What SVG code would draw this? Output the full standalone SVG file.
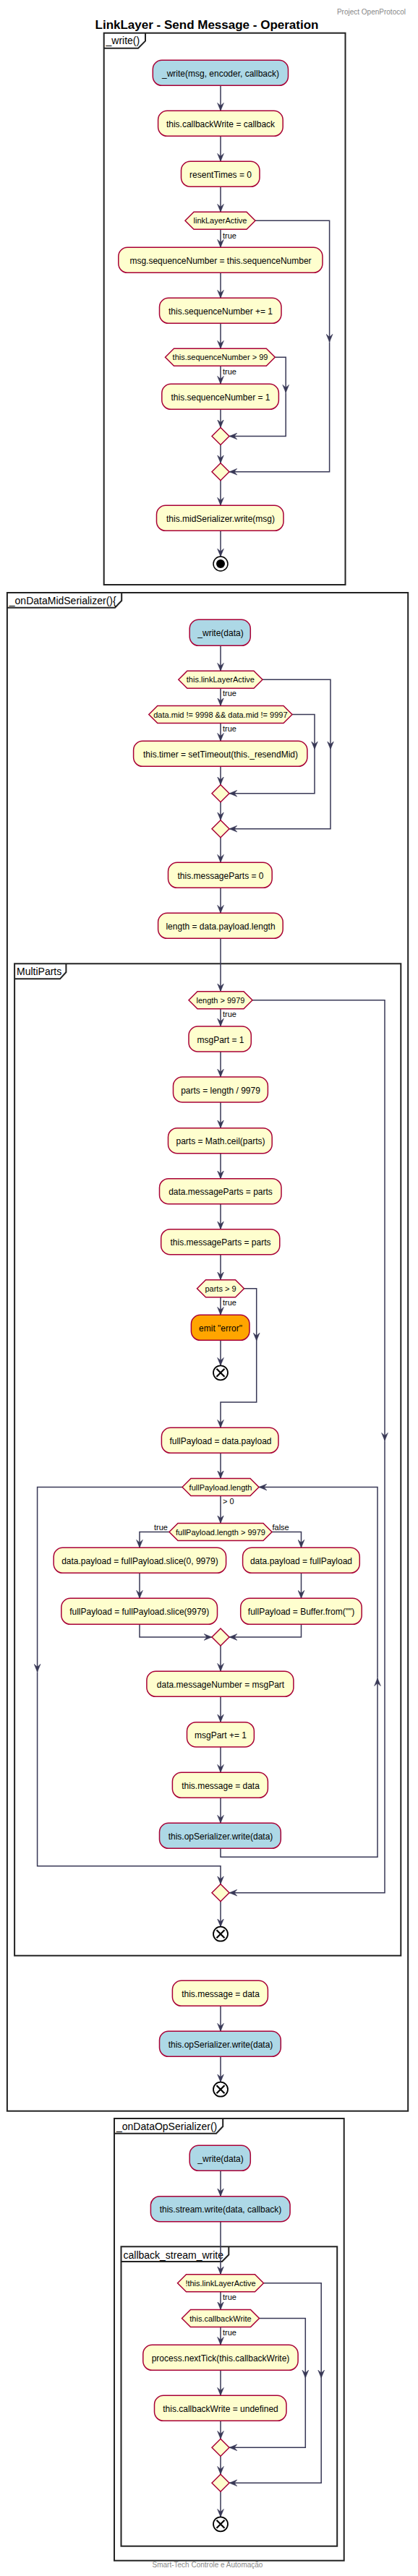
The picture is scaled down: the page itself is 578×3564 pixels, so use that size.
<svg xmlns="http://www.w3.org/2000/svg" width="578" height="3564" viewBox="0 0 578 3564">
<defs>
<style>
.n{stroke:#A80036;stroke-width:1.5}
.y{fill:#FEFECE}
.b{fill:#ADD8E6}
.o{fill:#FFA500}
.t{font-family:"Liberation Sans",Arial,sans-serif;font-size:12px;fill:#000;text-anchor:middle}
.dt{font-size:11px}
.l{font-family:"Liberation Sans",Arial,sans-serif;font-size:11px;fill:#000}
.c path{fill:none;stroke:#383856;stroke-width:1.5;marker-end:url(#ah)}
.c path.nm{marker-end:none}
.f{fill:none;stroke:#222;stroke-width:2}
.ft{font-family:"Liberation Sans",Arial,sans-serif;font-size:14px;fill:#000}
.x{fill:#fff;stroke:#000;stroke-width:1.8}
.xl{stroke:#000;stroke-width:2.2}
.g{font-family:"Liberation Sans",Arial,sans-serif;font-size:10px;fill:#888}
</style>
<marker id="ah" viewBox="0 0 11 10" refX="11" refY="5" markerWidth="11" markerHeight="10" markerUnits="userSpaceOnUse" orient="auto"><path d="M0,0.5 L11,5 L0,9.5 L4,5 Z" fill="#383856" stroke="#383856" stroke-width="0.5"/></marker>
</defs>
<rect width="578" height="3564" fill="#fff"/>
<text class="g" x="561" y="20" text-anchor="end">Project OpenProtocol</text>
<text x="286" y="40" text-anchor="middle" font-family="Liberation Sans, Arial, sans-serif" font-size="17" font-weight="bold">LinkLayer - Send Message - Operation</text>

<g id="frames">
<g id="frame-write">
<rect class="f" x="143.7" y="45.7" width="333.8" height="763.3"/>
<path class="f" d="M143.7,66.7 H191 L201,56.7 V45.7"/>
<text class="ft" x="146.5" y="61">_write()</text>
</g>
<g id="frame-onDataMidSerializer">
<rect class="f" x="9.9" y="820" width="554.3" height="2100.7"/>
<path class="f" d="M9.9,840.7 H159 L168.2,831 V820"/>
<text class="ft" x="12.8" y="836">_onDataMidSerializer(){</text>
</g>
<g id="frame-multiparts">
<rect class="f" x="20.1" y="1333.3" width="534.2" height="1372.4"/>
<path class="f" d="M20.1,1354.3 H83 L91.4,1345 V1333.3"/>
<text class="ft" x="23" y="1349">MultiParts</text>
</g>
<g id="frame-onDataOpSerializer">
<rect class="f" x="158" y="2931" width="317.7" height="611.7"/>
<path class="f" d="M158,2951.7 H299 L308.2,2942 V2931"/>
<text class="ft" x="161" y="2947">_onDataOpSerializer()</text>
</g>
<g id="frame-callback">
<rect class="f" x="167.5" y="3108.3" width="298.7" height="414.4"/>
<path class="f" d="M167.5,3129 H307 L316.3,3119.5 V3108.3"/>
<text class="ft" x="170.5" y="3124.5">callback_stream_write</text>
</g>
</g>

<g id="connectors" class="c">
<path d="M305,118.3 V153.3"/>
<path d="M305,188.3 V223.3"/>
<path d="M305,258.3 V293.3"/>
<path d="M305,317.3 V342.3"/>
<path d="M305,377.3 V412.3"/>
<path d="M305,447.3 V482.3"/>
<path d="M305,506.3 V531.3"/>
<path d="M305,566.3 V591.5"/>
<path d="M380.3,494.3 H395.2 V543.3"/>
<path d="M395.2,543.3 V603.5 H317"/>
<path d="M305,615.5 V640.7"/>
<path d="M353,305.3 H455.6 V473.3"/>
<path d="M455.6,473.3 V652.7 H317"/>
<path d="M305,664.7 V699.3"/>
<path d="M305,734.3 V770"/>

<path d="M305,893.3 V928.3"/>
<path d="M305,952.3 V976.5"/>
<path d="M305,1000.5 V1025.3"/>
<path d="M305,1060.3 V1085.7"/>
<path d="M404,988.5 H435 V1036.7"/>
<path d="M435,1036.7 V1097.7 H317"/>
<path d="M305,1109.7 V1134.7"/>
<path d="M363,940.3 H457 V1036.7"/>
<path d="M457,1036.7 V1146.7 H317"/>
<path d="M305,1158.7 V1193.3"/>
<path d="M305,1228.3 V1263.3"/>
<path d="M305,1298.3 V1371.7"/>

<path d="M305,1395.7 V1420"/>
<path d="M305,1455 V1490"/>
<path d="M305,1525 V1560.7"/>
<path d="M305,1595.7 V1630.7"/>
<path d="M305,1665.7 V1700.7"/>
<path d="M305,1735.7 V1770.7"/>
<path d="M305,1794.7 V1819.3"/>
<path d="M305,1854.3 V1889.3"/>
<path d="M337.5,1782.7 H354.7 V1855"/>
<path d="M354.7,1855 V1940 H305 V1975.3"/>
<path d="M305,2010.3 V2045.5"/>
<path d="M305,2069.5 V2107.5"/>
<path d="M234,2119.5 H193 V2141.3"/>
<path d="M376,2119.5 H416.5 V2141.3"/>
<path d="M193,2176.3 V2211.3"/>
<path d="M416.5,2176.3 V2211.3"/>
<path d="M193,2247.3 V2265 H293"/>
<path d="M416.5,2247.3 V2265 H317"/>
<path d="M305,2277 V2312.3"/>
<path d="M305,2347.3 V2382.7"/>
<path d="M305,2417 V2452.3"/>
<path d="M305,2487.3 V2522.3"/>
<path d="M305,2557.3 V2569.3 H522 V2321.7"/>
<path d="M522,2321.7 V2057.5 H358"/>
<path d="M252,2057.5 H51.6 V2313.3"/>
<path d="M51.6,2313.3 V2581.7 H305 V2606.7"/>
<path d="M349,1383.7 H532 V1993.3"/>
<path d="M532,1993.3 V2618.7 H317"/>
<path d="M305,2630.7 V2665.7"/>

<path d="M305,2775.3 V2810.3"/>
<path d="M305,2845.3 V2880.7"/>

<path d="M305,3003.3 V3038.7"/>
<path d="M305,3073.7 V3146.7"/>
<path d="M305,3170.7 V3195.5"/>
<path d="M305,3219.5 V3244.3"/>
<path d="M305,3279.3 V3314.3"/>
<path d="M305,3349.3 V3374.3"/>
<path d="M358.5,3207.5 H422.3 V3290"/>
<path d="M422.3,3290 V3386.3 H317"/>
<path d="M305,3398.3 V3423.3"/>
<path d="M364.5,3158.7 H444.2 V3290"/>
<path d="M444.2,3290 V3435.3 H317"/>
<path d="M305,3447.3 V3482.3"/>
</g>

<g id="labels">
<text class="l" x="308" y="329.5">true</text>
<text class="l" x="308" y="518">true</text>
<text class="l" x="308" y="963">true</text>
<text class="l" x="308" y="1012">true</text>
<text class="l" x="308" y="1407">true</text>
<text class="l" x="308" y="1805.5">true</text>
<text class="l" x="308" y="2081">&gt; 0</text>
<text class="l" x="232" y="2117" text-anchor="end">true</text>
<text class="l" x="376.5" y="2117">false</text>
<text class="l" x="308" y="3182">true</text>
<text class="l" x="308" y="3231">true</text>
</g>

<g id="n1"><rect class="n b" x="211.3" y="83.3" width="187.2" height="35" rx="12.5"/><text class="t" x="305" y="105.8">_write(msg, encoder, callback)</text></g>
<g id="n2"><rect class="n y" x="218.6" y="153.3" width="172.6" height="35" rx="12.5"/><text class="t" x="305" y="175.8">this.callbackWrite = callback</text></g>
<g id="n3"><rect class="n y" x="250.5" y="223.3" width="108.5" height="35" rx="12.5"/><text class="t" x="305" y="245.8">resentTimes = 0</text></g>
<g id="d1"><polygon class="n y" points="256,305.3 268,293.3 341,293.3 353,305.3 341,317.3 268,317.3"/><text class="t dt" x="304.5" y="309.3">linkLayerActive</text></g>
<g id="n4"><rect class="n y" x="163.8" y="342.3" width="282.2" height="35" rx="12.5"/><text class="t" x="305" y="364.8">msg.sequenceNumber = this.sequenceNumber</text></g>
<g id="n5"><rect class="n y" x="220.5" y="412.3" width="168.5" height="35" rx="12.5"/><text class="t" x="305" y="434.8">this.sequenceNumber += 1</text></g>
<g id="d2"><polygon class="n y" points="228.5,494.3 240.5,482.3 368.3,482.3 380.3,494.3 368.3,506.3 240.5,506.3"/><text class="t dt" x="304.5" y="498.3">this.sequenceNumber &gt; 99</text></g>
<g id="n6"><rect class="n y" x="223.8" y="531.3" width="161.6" height="35" rx="12.5"/><text class="t" x="305" y="553.8">this.sequenceNumber = 1</text></g>
<g id="m1"><polygon class="n y" points="305,591.5 317,603.5 305,615.5 293,603.5"/></g>
<g id="m2"><polygon class="n y" points="305,640.7 317,652.7 305,664.7 293,652.7"/></g>
<g id="n7"><rect class="n y" x="216.5" y="699.3" width="175.5" height="35" rx="12.5"/><text class="t" x="305" y="721.8">this.midSerializer.write(msg)</text></g>
<g id="stop1"><circle cx="305" cy="780" r="10" fill="#fff" stroke="#000" stroke-width="1.5"/><circle cx="305" cy="780" r="6" fill="#000"/></g>

<g id="n8"><rect class="n b" x="262.2" y="857.3" width="84.1" height="36" rx="12.5"/><text class="t" x="305" y="880.3">_write(data)</text></g>
<g id="d3"><polygon class="n y" points="246.8,940.3 258.8,928.3 351,928.3 363,940.3 351,952.3 258.8,952.3"/><text class="t dt" x="304.9" y="944.3">this.linkLayerActive</text></g>
<g id="d4"><polygon class="n y" points="205.8,988.5 217.8,976.5 392,976.5 404,988.5 392,1000.5 217.8,1000.5"/><text class="t dt" x="304.9" y="992.5">data.mid != 9998 &amp;&amp; data.mid != 9997</text></g>
<g id="n9"><rect class="n y" x="184.6" y="1025.3" width="240.3" height="35" rx="12.5"/><text class="t" x="305" y="1047.8">this.timer = setTimeout(this._resendMid)</text></g>
<g id="m3"><polygon class="n y" points="305,1085.7 317,1097.7 305,1109.7 293,1097.7"/></g>
<g id="m4"><polygon class="n y" points="305,1134.7 317,1146.7 305,1158.7 293,1146.7"/></g>
<g id="n10"><rect class="n y" x="232.5" y="1193.3" width="143.7" height="35" rx="12.5"/><text class="t" x="305" y="1215.8">this.messageParts = 0</text></g>
<g id="n11"><rect class="n y" x="218.6" y="1263.3" width="172.6" height="35" rx="12.5"/><text class="t" x="305" y="1285.8">length = data.payload.length</text></g>

<g id="d5"><polygon class="n y" points="261,1383.7 273,1371.7 337,1371.7 349,1383.7 337,1395.7 273,1395.7"/><text class="t dt" x="305" y="1387.7">length &gt; 9979</text></g>
<g id="n12"><rect class="n y" x="261" y="1420" width="86.3" height="35" rx="12.5"/><text class="t" x="305" y="1442.5">msgPart = 1</text></g>
<g id="n13"><rect class="n y" x="239.5" y="1490" width="130.9" height="35" rx="12.5"/><text class="t" x="305" y="1512.5">parts = length / 9979</text></g>
<g id="n14"><rect class="n y" x="232.5" y="1560.7" width="143.7" height="35" rx="12.5"/><text class="t" x="305" y="1583.2">parts = Math.ceil(parts)</text></g>
<g id="n15"><rect class="n y" x="220.5" y="1630.7" width="168.5" height="35" rx="12.5"/><text class="t" x="305" y="1653.2">data.messageParts = parts</text></g>
<g id="n16"><rect class="n y" x="222.7" y="1700.7" width="164.1" height="35" rx="12.5"/><text class="t" x="305" y="1723.2">this.messageParts = parts</text></g>
<g id="d6"><polygon class="n y" points="272.5,1782.7 284.5,1770.7 325.5,1770.7 337.5,1782.7 325.5,1794.7 284.5,1794.7"/><text class="t dt" x="305" y="1786.7">parts &gt; 9</text></g>
<g id="n17"><rect class="n o" x="264.4" y="1819.3" width="80.6" height="35" rx="12.5"/><text class="t" x="305" y="1841.8">emit "error"</text></g>
<g id="end1"><circle class="x" cx="305" cy="1899.3" r="10"/><path class="xl" d="M299.5,1893.8 L310.5,1904.8 M310.5,1893.8 L299.5,1904.8"/></g>
<g id="n18"><rect class="n y" x="223.4" y="1975.3" width="161.6" height="35" rx="12.5"/><text class="t" x="305" y="1997.8">fullPayload = data.payload</text></g>
<g id="d7"><polygon class="n y" points="252,2057.5 264,2045.5 346,2045.5 358,2057.5 346,2069.5 264,2069.5"/><text class="t dt" x="305" y="2061.5">fullPayload.length</text></g>
<g id="d8"><polygon class="n y" points="234,2119.5 246,2107.5 364,2107.5 376,2119.5 364,2131.5 246,2131.5"/><text class="t dt" x="305" y="2123.5">fullPayload.length &gt; 9979</text></g>
<g id="n19"><rect class="n y" x="74.2" y="2141.3" width="238.4" height="35" rx="12.5"/><text class="t" x="193.4" y="2163.8">data.payload = fullPayload.slice(0, 9979)</text></g>
<g id="n20"><rect class="n y" x="335.6" y="2141.3" width="161.7" height="35" rx="12.5"/><text class="t" x="416.5" y="2163.8">data.payload = fullPayload</text></g>
<g id="n21"><rect class="n y" x="84.8" y="2211.3" width="215.7" height="36" rx="12.5"/><text class="t" x="192.7" y="2234.3">fullPayload = fullPayload.slice(9979)</text></g>
<g id="n22"><rect class="n y" x="332.7" y="2211.3" width="167.5" height="36" rx="12.5"/><text class="t" x="416.5" y="2234.3">fullPayload = Buffer.from("")</text></g>
<g id="m5"><polygon class="n y" points="305,2253 317,2265 305,2277 293,2265"/></g>
<g id="n23"><rect class="n y" x="202.9" y="2312.3" width="203" height="35" rx="12.5"/><text class="t" x="305" y="2334.8">data.messageNumber = msgPart</text></g>
<g id="n24"><rect class="n y" x="258.5" y="2382.7" width="92.9" height="34.3" rx="12.5"/><text class="t" x="305" y="2404.8">msgPart += 1</text></g>
<g id="n25"><rect class="n y" x="238.4" y="2452.3" width="132" height="35" rx="12.5"/><text class="t" x="305" y="2474.8">this.message = data</text></g>
<g id="n26"><rect class="n b" x="220.5" y="2522.3" width="167.8" height="35" rx="12.5"/><text class="t" x="305" y="2544.8">this.opSerializer.write(data)</text></g>
<g id="m6"><polygon class="n y" points="305,2606.7 317,2618.7 305,2630.7 293,2618.7"/></g>
<g id="end2"><circle class="x" cx="305" cy="2675.7" r="10"/><path class="xl" d="M299.5,2670.2 L310.5,2681.2 M310.5,2670.2 L299.5,2681.2"/></g>

<g id="n27"><rect class="n y" x="238.4" y="2740.3" width="132" height="35" rx="12.5"/><text class="t" x="305" y="2762.8">this.message = data</text></g>
<g id="n28"><rect class="n b" x="220.5" y="2810.3" width="167.8" height="35" rx="12.5"/><text class="t" x="305" y="2832.8">this.opSerializer.write(data)</text></g>
<g id="end3"><circle class="x" cx="305" cy="2890.7" r="10"/><path class="xl" d="M299.5,2885.2 L310.5,2896.2 M310.5,2885.2 L299.5,2896.2"/></g>

<g id="n29"><rect class="n b" x="262.2" y="2968.3" width="84.1" height="35" rx="12.5"/><text class="t" x="305" y="2990.8">_write(data)</text></g>
<g id="n30"><rect class="n b" x="208.4" y="3038.7" width="192.7" height="35" rx="12.5"/><text class="t" x="305" y="3061.2">this.stream.write(data, callback)</text></g>
<g id="d9"><polygon class="n y" points="245.5,3158.7 257.5,3146.7 352.5,3146.7 364.5,3158.7 352.5,3170.7 257.5,3170.7"/><text class="t dt" x="305" y="3162.7">!this.linkLayerActive</text></g>
<g id="d10"><polygon class="n y" points="251.5,3207.5 263.5,3195.5 346.5,3195.5 358.5,3207.5 346.5,3219.5 263.5,3219.5"/><text class="t dt" x="305" y="3211.5">this.callbackWrite</text></g>
<g id="n31"><rect class="n y" x="197.8" y="3244.3" width="214.3" height="35" rx="12.5"/><text class="t" x="305" y="3266.8">process.nextTick(this.callbackWrite)</text></g>
<g id="n32"><rect class="n y" x="213.5" y="3314.3" width="182.5" height="35" rx="12.5"/><text class="t" x="305" y="3336.8">this.callbackWrite = undefined</text></g>
<g id="m7"><polygon class="n y" points="305,3374.3 317,3386.3 305,3398.3 293,3386.3"/></g>
<g id="m8"><polygon class="n y" points="305,3423.3 317,3435.3 305,3447.3 293,3435.3"/></g>
<g id="end4"><circle class="x" cx="305" cy="3492.3" r="10"/><path class="xl" d="M299.5,3486.8 L310.5,3497.8 M310.5,3486.8 L299.5,3497.8"/></g>

<text class="g" x="287" y="3552" text-anchor="middle" font-size="10.5">Smart-Tech Controle e Automação</text>
</svg>
